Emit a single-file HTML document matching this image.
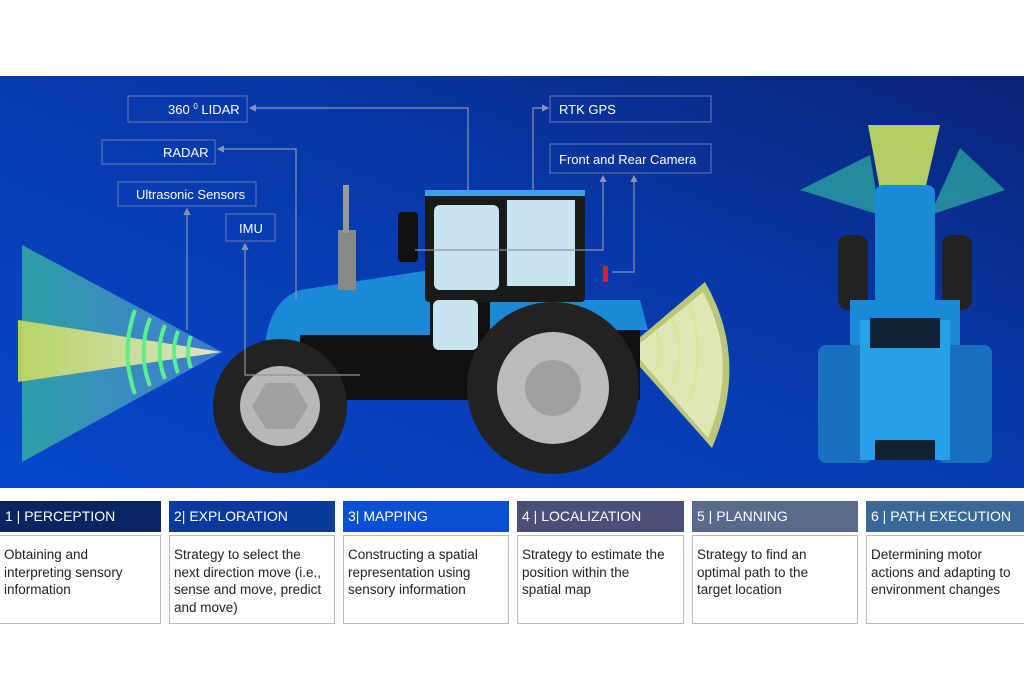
<!DOCTYPE html>
<html><head><meta charset="utf-8"><style>
body{margin:0;width:1024px;height:682px;background:#fff;font-family:"Liberation Sans",sans-serif;overflow:hidden;position:relative}
.h{position:absolute;top:501px;height:31px;color:#fff;font-size:14px;line-height:31px;padding-left:5px;box-sizing:border-box}
.b{position:absolute;top:535px;height:89px;border:1px solid #bbb;box-sizing:border-box;font-size:13.5px;line-height:17.5px;padding:10px 4px 0 4px;color:#222}
</style></head><body>
<svg width="1024" height="682" style="position:absolute;left:0;top:0">
<defs>
<linearGradient id="bg" x1="0" y1="1" x2="1" y2="0">
<stop offset="0" stop-color="#0848cc"/><stop offset="0.6" stop-color="#0838a8"/><stop offset="1" stop-color="#0a2478"/></linearGradient>
<linearGradient id="cone" x1="0" x2="1"><stop offset="0" stop-color="#2fa8a0" stop-opacity=".9"/><stop offset="1" stop-color="#6fb0e0" stop-opacity=".5"/></linearGradient>
<linearGradient id="beam" x1="0" x2="1"><stop offset="0" stop-color="#c8d860"/><stop offset="1" stop-color="#eef0c0"/></linearGradient>
<marker id="ar" markerWidth="6" markerHeight="6" refX="5" refY="3" orient="auto"><path d="M0,0L6,3L0,6z" fill="#8a94b0"/></marker>
</defs>
<rect x="0" y="76" width="1024" height="412" fill="url(#bg)"/>
<!-- left cone -->
<polygon points="22,245 222,352 22,462" fill="url(#cone)"/>
<polygon points="18,320 222,352 18,382" fill="url(#beam)" opacity=".9"/>
<g fill="none" stroke="#5af08a" stroke-width="4">
<path d="M135,310 Q120,352 135,394"/><path d="M150,318 Q137,352 150,386"/><path d="M165,325 Q154,352 165,379"/><path d="M178,331 Q170,352 178,373"/><path d="M191,336 Q185,352 191,368"/>
</g>
<!-- right sector -->
<path d="M625,350 L705,282 Q750,360 712,448 Z" fill="#d8e070" opacity=".85"/>
<path d="M632,350 L703,292 Q740,360 708,438 Z" fill="#eef0c8" opacity=".75"/>
<g fill="none" stroke="#d8e890" stroke-width="3" opacity=".8">
<path d="M655,330 Q665,350 655,372"/><path d="M672,318 Q686,350 672,385"/><path d="M690,306 Q706,350 690,398"/>
</g>
<!-- tractor body -->
<path d="M265,345 Q270,300 300,290 L430,270 L430,350 L265,350z" fill="#1a8ad8"/>
<rect x="300" y="300" width="340" height="100" fill="#111"/>
<path d="M300,335 L430,335 L430,300 L300,300z" fill="#1a8ad8"/>
<path d="M490,300 L640,300 L648,330 L490,330z" fill="#1a8ad8"/>
<rect x="425" y="192" width="160" height="110" rx="4" fill="#1a1a1a"/>
<rect x="425" y="190" width="160" height="6" fill="#3aa0e8"/>
<rect x="434" y="205" width="65" height="85" rx="6" fill="#c8e4f0"/>
<rect x="507" y="200" width="68" height="86" fill="#c8e4f0"/>
<rect x="433" y="300" width="45" height="50" rx="6" fill="#c8e4f0"/>
<rect x="398" y="212" width="20" height="50" rx="4" fill="#111"/>
<rect x="338" y="230" width="18" height="60" fill="#888"/>
<rect x="343" y="185" width="6" height="48" fill="#999"/>
<rect x="603" y="266" width="5" height="16" fill="#e02020"/>
<!-- front wheel -->
<circle cx="280" cy="406" r="67" fill="#222"/><circle cx="280" cy="406" r="40" fill="#b8b8b8"/>
<polygon points="266,383 294,383 308,406 294,429 266,429 252,406" fill="#a0a0a0"/>
<!-- rear wheel -->
<circle cx="553" cy="388" r="86" fill="#222"/><circle cx="553" cy="388" r="56" fill="#bbb"/><circle cx="553" cy="388" r="28" fill="#a0a0a0"/>
<!-- right front view tractor -->
<polygon points="800,190 870,155 880,215" fill="#2aa0a0" opacity=".8"/>
<polygon points="1005,190 960,148 930,215" fill="#2aa0a0" opacity=".8"/>
<polygon points="868,125 940,125 925,190 880,190" fill="#c8e060" opacity=".9"/>
<rect x="838" y="235" width="30" height="75" rx="10" fill="#222"/><rect x="942" y="235" width="30" height="75" rx="10" fill="#222"/>
<rect x="875" y="185" width="60" height="120" rx="8" fill="#1a8ad8"/>
<rect x="850" y="300" width="110" height="45" fill="#1a8ad8"/>
<rect x="818" y="345" width="55" height="118" rx="8" fill="#1a70c0"/>
<rect x="937" y="345" width="55" height="118" rx="8" fill="#1a70c0"/>
<rect x="860" y="320" width="90" height="140" fill="#28a0e8"/>
<rect x="870" y="318" width="70" height="30" fill="#123"/>
<rect x="875" y="440" width="60" height="20" fill="#123"/>
<!-- label boxes -->
<g fill="none" stroke="#6a7cb8" stroke-width="1">
<rect x="128" y="96" width="119" height="26"/><rect x="102" y="140" width="113" height="24"/>
<rect x="118" y="182" width="138" height="24"/><rect x="226" y="214" width="49" height="27"/>
<rect x="550" y="96" width="161" height="26"/><rect x="550" y="144" width="161" height="29"/>
</g>
<g fill="none" stroke="#8a94b0" stroke-width="1.2" marker-end="url(#ar)">
<path d="M468,190 V108 H250"/><path d="M296,300 V149 H218"/><path d="M187,330 V209"/>
<path d="M360,375 H245 V244"/><path d="M533,190 V108 H548"/>
<path d="M415,250 H603 V176"/><path d="M612,272 H634 V176"/>
</g>
<g fill="#fff" font-size="13">
<text x="168" y="114">360 <tspan font-size="8" dy="-5">0</tspan><tspan dy="5"> LIDAR</tspan></text>
<text x="163" y="157">RADAR</text><text x="136" y="199">Ultrasonic Sensors</text>
<text x="239" y="233">IMU</text><text x="559" y="114">RTK GPS</text><text x="559" y="164">Front and Rear Camera</text>
</g>
</svg>
<div class="h" style="left:0;width:161px;background:#0a2462">1 | PERCEPTION</div>
<div class="h" style="left:169px;width:166px;background:#0a3a9e">2| EXPLORATION</div>
<div class="h" style="left:343px;width:166px;background:#0a50d2">3| MAPPING</div>
<div class="h" style="left:517px;width:167px;background:#4a4e78">4 | LOCALIZATION</div>
<div class="h" style="left:692px;width:166px;background:#5a6a8c">5 | PLANNING</div>
<div class="h" style="left:866px;width:158px;background:#3a6898">6 | PATH EXECUTION</div>
<div class="b" style="left:-1px;width:162px">Obtaining and<br>interpreting sensory<br>information</div>
<div class="b" style="left:169px;width:166px">Strategy to select the<br>next direction move (i.e.,<br>sense and move, predict<br>and move)</div>
<div class="b" style="left:343px;width:166px">Constructing a spatial<br>representation using<br>sensory information</div>
<div class="b" style="left:517px;width:167px">Strategy to estimate the<br>position within the<br>spatial map</div>
<div class="b" style="left:692px;width:166px">Strategy to find an<br>optimal path to the<br>target location</div>
<div class="b" style="left:866px;width:160px">Determining motor<br>actions and adapting to<br>environment changes</div>
</body></html>
